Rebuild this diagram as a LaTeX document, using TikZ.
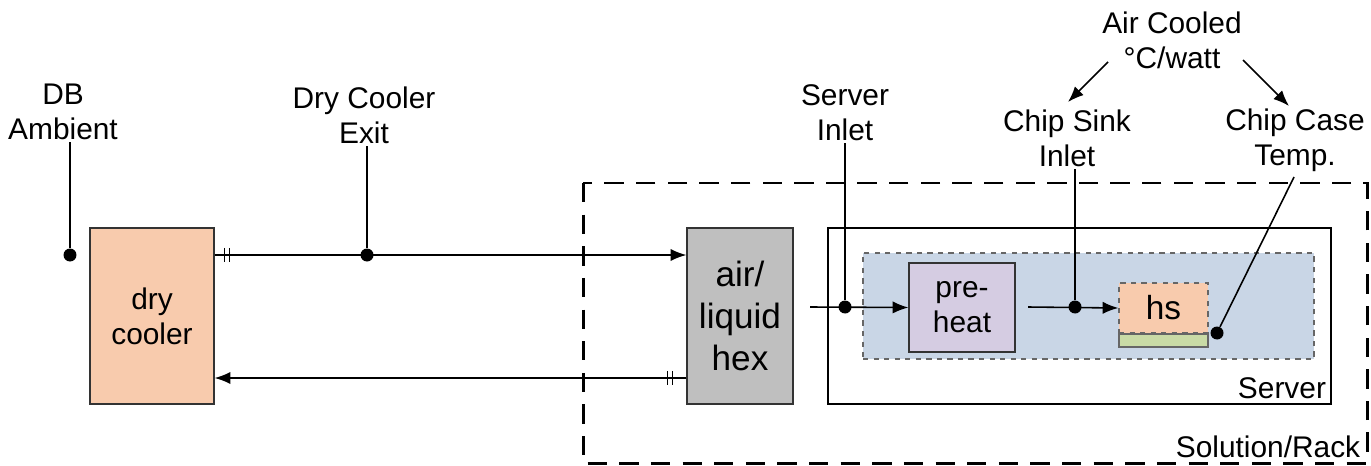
\documentclass[tikz,border=0pt]{standalone}
\usepackage{fontspec}
\setmainfont{Liberation Sans}
\usetikzlibrary{positioning,arrows.meta}

\definecolor{peach}{HTML}{F8CBAD}
\definecolor{hexgray}{HTML}{BFBFBF}
\definecolor{zoneblue}{HTML}{C9D6E6}
\definecolor{lavender}{HTML}{D5CCE2}
\definecolor{plategreen}{HTML}{C9DBA6}

\begin{document}
\begin{tikzpicture}[
    x=0.02cm, y=-0.02cm,
    every node/.style={font=\fontsize{17}{20}\selectfont, align=center},
    box/.style={rectangle, draw=black!80, line width=0.7pt, inner sep=0pt},
    lbl/.style={inner sep=1pt},
    arr/.style={-{Latex[length=9pt,width=7pt]}, line width=0.9pt},
    lead/.style={line width=0.9pt},
    dot/.style={circle, fill=black, inner sep=0pt, minimum size=0.26cm}
]
\useasboundingbox (0,0) rectangle (1371,466);

% rack and server outlines
\draw[line width=1.7pt, dash pattern=on 11pt off 7pt] (583,183) rectangle (1367,463);
\node[anchor=south east, inner sep=2pt] (rack) at (1364,462) {Solution/Rack};
\node[box, draw=black, fill=white, minimum width=10.06cm, minimum height=3.52cm] (srv) at (1079.5,316) {};
\node[anchor=south east, inner sep=3pt] (srvlbl) at (srv.south east) {Server};
\node[box, draw=black!60, fill=zoneblue, dashed, minimum width=9.02cm, minimum height=2.12cm] (zone) at (1088.5,306) {};

% blocks
\node[box, fill=peach, minimum width=2.48cm, minimum height=3.52cm] (dc) at (152,316) {dry\\cooler};
\node[box, fill=hexgray, minimum width=2.12cm, minimum height=3.52cm,
      font=\fontsize{20}{24}\selectfont] (hx) at (740,316) {air/\\liquid\\hex};
\node[box, fill=lavender, minimum width=2.12cm, minimum height=1.78cm] (ph) at (962,307.5) {pre-\\heat};
\node[box, draw=black!60, fill=peach, dashed, minimum width=1.78cm, minimum height=1.0cm,
      font=\fontsize{19}{22}\selectfont] (hs) at (1163.5,308) {hs};
\node[box, draw=black!60, fill=plategreen, minimum width=1.78cm, minimum height=0.26cm] (plate) at (1163.5,340.5) {};

% measurement points
\node[dot] (pamb) at (70,255) {};
\node[dot] (pexit) at (367,255) {};
\node[dot] (pinl) at (845,307) {};
\node[dot] (psink) at (1075,307) {};
\node[dot] (pcase) at (1217,333) {};

% labels
\node[lbl] (amb) at (63,112) {DB\\Ambient};
\node[lbl] (exit) at (364,115) {Dry Cooler\\Exit};
\node[lbl] (inl) at (845,113) {Server\\Inlet};
\node[lbl] (sink) at (1067,138) {Chip Sink\\Inlet};
\node[lbl] (case) at (1295,140) {Chip Case\\Temp.};
\node[lbl] (air) at (1172,40) {Air Cooled\\\textdegree C/watt};

% liquid loop
\coordinate (dcout) at (dc.east |- pexit);
\coordinate (hxin) at (hx.west |- pexit);
\coordinate (hxout) at (hx.west |- 0,378);
\coordinate (dcin) at (dc.east |- 0,378);
\draw[arr] (dcout) -- (hxin);
\draw[arr] (hxout) -- (dcin);
\foreach \p/\d in {dcout/10, dcout/15, hxout/-14, hxout/-19}
    \draw[line width=0.9pt] ([xshift=\d*0.02cm, yshift=4pt]\p) -- ++(0,-8pt);

% air path
\coordinate (ain) at (810,307);
\coordinate (aout) at (1028,307);
\draw[arr] (ain) -- (ph.west);
\draw[arr] (aout) -- (hs.west);

% leaders to the points
\draw[lead] (pamb) -- (pamb |- amb.south);
\draw[lead] (pexit) -- (pexit |- exit.south);
\draw[lead] (pinl) -- (pinl |- inl.south);
\draw[lead] (psink) -- (psink |- sink.south);
\draw[lead] (pcase) -- (1294,177);

% resistance arrows
\draw[arr] (1108,62) -- (1068,102);
\draw[arr] (1243,60) -- (1289,106);
\end{tikzpicture}
\end{document}
